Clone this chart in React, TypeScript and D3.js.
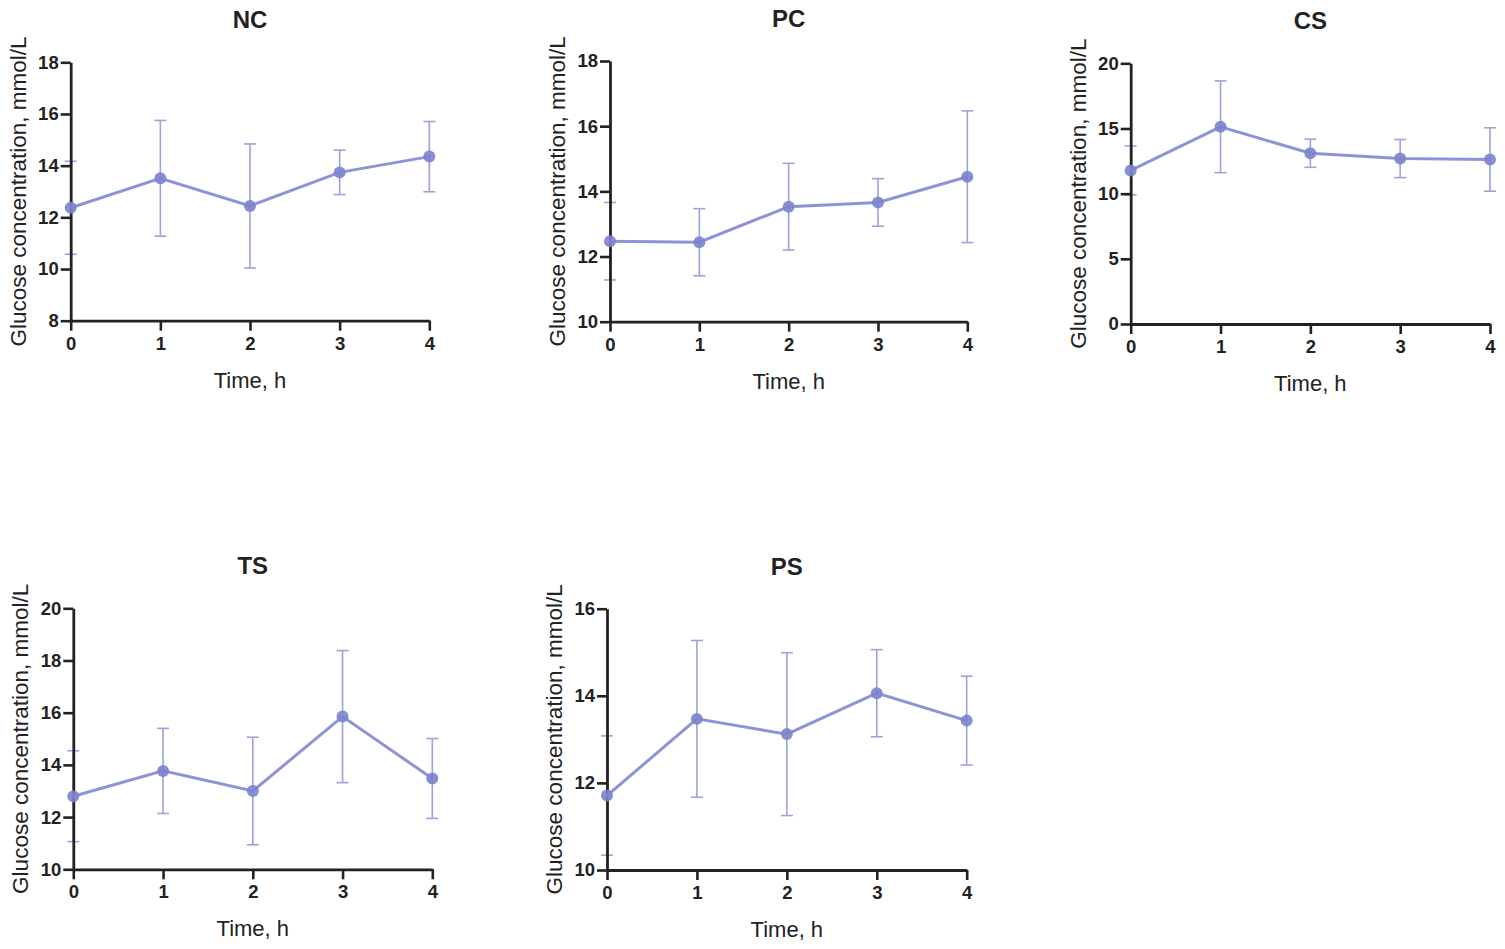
import React, { useEffect, useRef } from "react";
import * as d3 from "d3";

// time points (h)
const times = [0, 1, 2, 3, 4];
const groups = ["NC", "PC", "CS", "TS", "PS"];

// mean glucose, mmol/L
const ncMean = [12.37, 13.51, 12.44, 13.74, 14.35];
const pcMean = [12.47, 12.44, 13.53, 13.66, 14.45];
const csMean = [11.78, 15.13, 13.1, 12.69, 12.62];
const tsMean = [12.8, 13.77, 13.0, 15.85, 13.48];
const psMean = [11.71, 13.47, 13.12, 14.06, 13.43];

// standard deviation
const ncSd = [1.8, 2.24, 2.4, 0.86, 1.36];
const pcSd = [1.19, 1.03, 1.33, 0.73, 2.02];
const csSd = [1.88, 3.52, 1.08, 1.46, 2.43];
const tsSd = [1.74, 1.63, 2.06, 2.53, 1.53];
const psSd = [1.37, 1.8, 1.87, 1.0, 1.02];

// y axis ticks per panel
const ncTicks = [8, 10, 12, 14, 16, 18];
const pcTicks = [10, 12, 14, 16, 18];
const csTicks = [0, 5, 10, 15, 20];
const tsTicks = [10, 12, 14, 16, 18, 20];
const psTicks = [10, 12, 14, 16];

const means = [ncMean, pcMean, csMean, tsMean, psMean];
const sds = [ncSd, pcSd, csSd, tsSd, psSd];
const yTicks = [ncTicks, pcTicks, csTicks, tsTicks, psTicks];

// plot boxes: left, right, top, bottom
const boxes = [
  [70.7, 429.3, 62.3, 320.7],
  [610, 967.3, 61, 321.7],
  [1130.7, 1490, 63.3, 324],
  [73.3, 432.3, 608.3, 869.3],
  [607, 966.7, 608.7, 870],
];

const FONT = "'Liberation Sans', Arial, Helvetica, sans-serif";
const AXIS = "#222222";
const LINE = "#8d94d6";
const DOT = "#7b83cc";
const ERR = "#9ca2dc";

const App: React.FC = () => {
  const ref = useRef<SVGSVGElement | null>(null);

  useEffect(() => {
    const root = d3.select(ref.current);
    root.selectAll("*").remove();

    groups.forEach((name, gi) => {
      const [x0, x1, y0, y1] = boxes[gi];
      const ticks = yTicks[gi];
      const rows = times.map((t, i) => ({
        t,
        mean: means[gi][i],
        sd: sds[gi][i],
      }));

      const x = d3.scaleLinear().domain([0, 4]).range([x0, x1]);
      const y = d3
        .scaleLinear()
        .domain([ticks[0], ticks[ticks.length - 1]])
        .range([y1, y0]);

      const g = root.append("g");

      // error bars
      const eb = g
        .append("g")
        .attr("stroke", ERR)
        .attr("stroke-width", 1.6)
        .attr("fill", "none");
      rows.forEach((d) => {
        const cx = x(d.t);
        eb.append("line")
          .attr("x1", cx)
          .attr("x2", cx)
          .attr("y1", y(d.mean + d.sd))
          .attr("y2", y(d.mean - d.sd));
        [d.mean + d.sd, d.mean - d.sd].forEach((v) => {
          eb.append("line")
            .attr("x1", cx - 6)
            .attr("x2", cx + 6)
            .attr("y1", y(v))
            .attr("y2", y(v));
        });
      });

      // axes
      const yAxis = g
        .append("g")
        .attr("transform", `translate(${x0},0)`)
        .call(
          d3
            .axisLeft(y)
            .tickValues(ticks)
            .tickSize(10)
            .tickSizeOuter(0)
            .tickFormat(d3.format("d"))
            .tickPadding(2)
        );
      const xAxis = g
        .append("g")
        .attr("transform", `translate(0,${y1})`)
        .call(
          d3
            .axisBottom(x)
            .tickValues(times)
            .tickSize(10)
            .tickSizeOuter(0)
            .tickFormat(d3.format("d"))
            .tickPadding(6)
        );
      [yAxis, xAxis].forEach((ax) => {
        ax.select(".domain").attr("stroke", AXIS).attr("stroke-width", 2.8);
        ax.selectAll(".tick line")
          .attr("stroke", AXIS)
          .attr("stroke-width", 2.6);
        ax.selectAll(".tick text")
          .attr("fill", AXIS)
          .attr("font-family", FONT)
          .attr("font-size", 18.5)
          .attr("font-weight", "bold");
      });

      // mean line and markers
      const line = d3
        .line<{ t: number; mean: number }>()
        .x((d) => x(d.t))
        .y((d) => y(d.mean));
      g.append("path")
        .datum(rows)
        .attr("d", line)
        .attr("fill", "none")
        .attr("stroke", LINE)
        .attr("stroke-width", 3);
      g.selectAll("circle.dot")
        .data(rows)
        .enter()
        .append("circle")
        .attr("class", "dot")
        .attr("cx", (d) => x(d.t))
        .attr("cy", (d) => y(d.mean))
        .attr("r", 6)
        .attr("fill", DOT)
        .attr("fill-opacity", 0.9);

      // titles
      const cx = (x0 + x1) / 2;
      g.append("text")
        .attr("x", cx)
        .attr("y", y0 - 34)
        .attr("text-anchor", "middle")
        .attr("font-family", FONT)
        .attr("font-size", 24)
        .attr("font-weight", "bold")
        .attr("fill", AXIS)
        .text(name);
      g.append("text")
        .attr("x", cx)
        .attr("y", y1 + 67)
        .attr("text-anchor", "middle")
        .attr("font-family", FONT)
        .attr("font-size", 22)
        .attr("fill", AXIS)
        .text("Time, h");
      g.append("text")
        .attr(
          "transform",
          `translate(${x0 - 45},${(y0 + y1) / 2}) rotate(-90)`
        )
        .attr("text-anchor", "middle")
        .attr("font-family", FONT)
        .attr("font-size", 22.5)
        .attr("fill", AXIS)
        .text("Glucose concentration, mmol/L");
    });
  }, []);

  return (
    <svg
      ref={ref}
      width={1505}
      height={949}
      style={{ position: "absolute", left: 0, top: 0, background: "#fff" }}
    ></svg>
  );
};

export default App;
